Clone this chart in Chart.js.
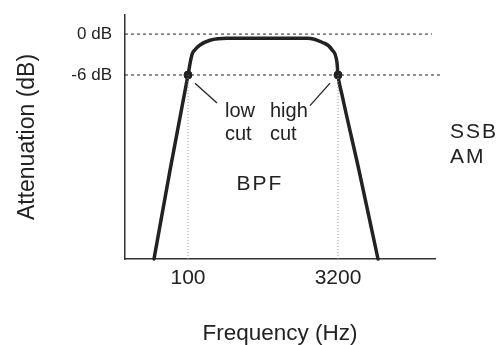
<!DOCTYPE html>
<html>
<head>
<meta charset="utf-8">
<script src="https://cdn.jsdelivr.net/npm/chart.js@4"></script>
<style>
  html, body { margin: 0; padding: 0; background: #fff; }
  #wrap { width: 500px; height: 345px; }
</style>
</head>
<body>
<div id="wrap"><canvas id="bpfChart"></canvas></div>
<script>
// Filter response (x in relative position units, y in dB)
const curveX  = [29, 45, 63, 67, 70, 75, 85, 102, 182, 197, 207, 212, 213, 217, 234, 253];
const curveDb = [-33, -20, -6, -3.0, -2.3, -1.6, -0.9, -0.6, -0.6, -1.2, -2.3, -4.2, -6, -8.9, -20, -33];

// Cut-off points and their frequency labels
const cutX = [63, 213];
const cutLabels = ['100', '3200'];

// Reference levels
const refDb = [0, -6];
const refLabels = ['0 dB', '-6 dB'];
const refEndX = [307, 317];

// Leader lines from the cut points to the labels
const lowLeaderX = [70, 92];
const lowLeaderDb = [-7.2, -10.1];
const highLeaderX = [205, 185];
const highLeaderDb = [-7.2, -10.5];

const xMin = 0, xMax = 310;
const yMin = -33, yMax = 2.8;

const ink = '#222';
const font = 'Arial, "Liberation Sans", Helvetica, sans-serif';

function pts(xs, ys) {
  return xs.map((x, i) => ({ x: x, y: ys[i] }));
}

// Annotation texts, placed in data units
const notes = [
  { text: 'low',  x: 100, y: -11.4, align: 'left',   size: 20, spacing: '0px' },
  { text: 'cut',  x: 100, y: -14.8, align: 'left',   size: 20, spacing: '0px' },
  { text: 'high', x: 145, y: -11.4, align: 'left',   size: 20, spacing: '0px' },
  { text: 'cut',  x: 145, y: -14.8, align: 'left',   size: 20, spacing: '0px' },
  { text: 'BPF',  x: 135, y: -22.0, align: 'center', size: 21, spacing: '2px' },
  { text: 'SSB',  x: 325, y: -14.4, align: 'left',   size: 21, spacing: '2px' },
  { text: 'AM',   x: 325, y: -18.1, align: 'left',   size: 21, spacing: '2px' }
];

const notesPlugin = {
  id: 'notes',
  afterDatasetsDraw(chart) {
    const ctx = chart.ctx;
    const xs = chart.scales.x, ys = chart.scales.y;
    ctx.save();
    ctx.fillStyle = ink;
    ctx.textBaseline = 'middle';
    notes.forEach(n => {
      ctx.font = n.size + 'px ' + font;
      ctx.letterSpacing = n.spacing;
      ctx.textAlign = n.align;
      ctx.fillText(n.text, xs.getPixelForValue(n.x), ys.getPixelForValue(n.y));
    });
    ctx.restore();
  }
};

const lineDs = (data, opts) => Object.assign({
  data: data,
  showLine: true,
  pointRadius: 0,
  fill: false,
  clip: false
}, opts);

new Chart(document.getElementById('bpfChart'), {
  type: 'scatter',
  data: {
    datasets: [
      lineDs(pts([xMin, refEndX[0]], [refDb[0], refDb[0]]), { borderColor: ink, borderWidth: 1, borderDash: [3, 3] }),
      lineDs(pts([xMin, refEndX[1]], [refDb[1], refDb[1]]), { borderColor: ink, borderWidth: 1, borderDash: [3, 3] }),
      lineDs(pts([cutX[0], cutX[0]], [refDb[1], yMin]), { borderColor: '#999', borderWidth: 1, borderDash: [1, 2] }),
      lineDs(pts([cutX[1], cutX[1]], [refDb[1], yMin]), { borderColor: '#999', borderWidth: 1, borderDash: [1, 2] }),
      lineDs(pts(lowLeaderX, lowLeaderDb), { borderColor: ink, borderWidth: 1.3 }),
      lineDs(pts(highLeaderX, highLeaderDb), { borderColor: ink, borderWidth: 1.3 }),
      lineDs(pts(curveX, curveDb), { borderColor: ink, borderWidth: 3.5, cubicInterpolationMode: 'monotone', borderCapStyle: 'round' }),
      {
        data: pts(cutX, [refDb[1], refDb[1]]),
        showLine: false,
        pointRadius: 4,
        backgroundColor: ink,
        borderColor: ink,
        clip: false
      }
    ]
  },
  options: {
    responsive: true,
    maintainAspectRatio: false,
    animation: false,
    layout: { padding: { top: 15, right: 65, left: 0, bottom: 0 } },
    plugins: {
      legend: { display: false },
      tooltip: { enabled: false }
    },
    scales: {
      x: {
        type: 'linear',
        min: xMin,
        max: xMax,
        grid: { display: false, drawTicks: false },
        border: { display: true, color: '#333', width: 1.5 },
        afterBuildTicks: s => { s.ticks = cutX.map(v => ({ value: v })); },
        afterFit: s => { s.height = 86; s.paddingLeft = 0; s.paddingRight = 0; },
        ticks: {
          padding: 7,
          color: ink,
          font: { family: font, size: 21 },
          maxRotation: 0,
          callback: v => cutLabels[cutX.indexOf(v)]
        },
        title: {
          display: true,
          text: 'Frequency (Hz)',
          color: ink,
          font: { family: font, size: 22.5, lineHeight: 1 },
          padding: 0
        }
      },
      y: {
        type: 'linear',
        min: yMin,
        max: yMax,
        grid: { display: false, drawTicks: false },
        border: { display: true, color: '#333', width: 1.5 },
        afterBuildTicks: s => { s.ticks = refDb.map(v => ({ value: v })); },
        afterFit: s => { s.width = 125; s.paddingTop = 0; s.paddingBottom = 0; },
        ticks: {
          padding: 13,
          color: ink,
          font: { family: font, size: 17 },
          callback: v => refLabels[refDb.indexOf(v)]
        },
        title: {
          display: true,
          text: 'Attenuation (dB)',
          color: ink,
          font: { family: font, size: 23, lineHeight: 1 },
          padding: { top: 16, bottom: 0 }
        }
      }
    }
  },
  plugins: [notesPlugin]
});
</script>
</body>
</html>
